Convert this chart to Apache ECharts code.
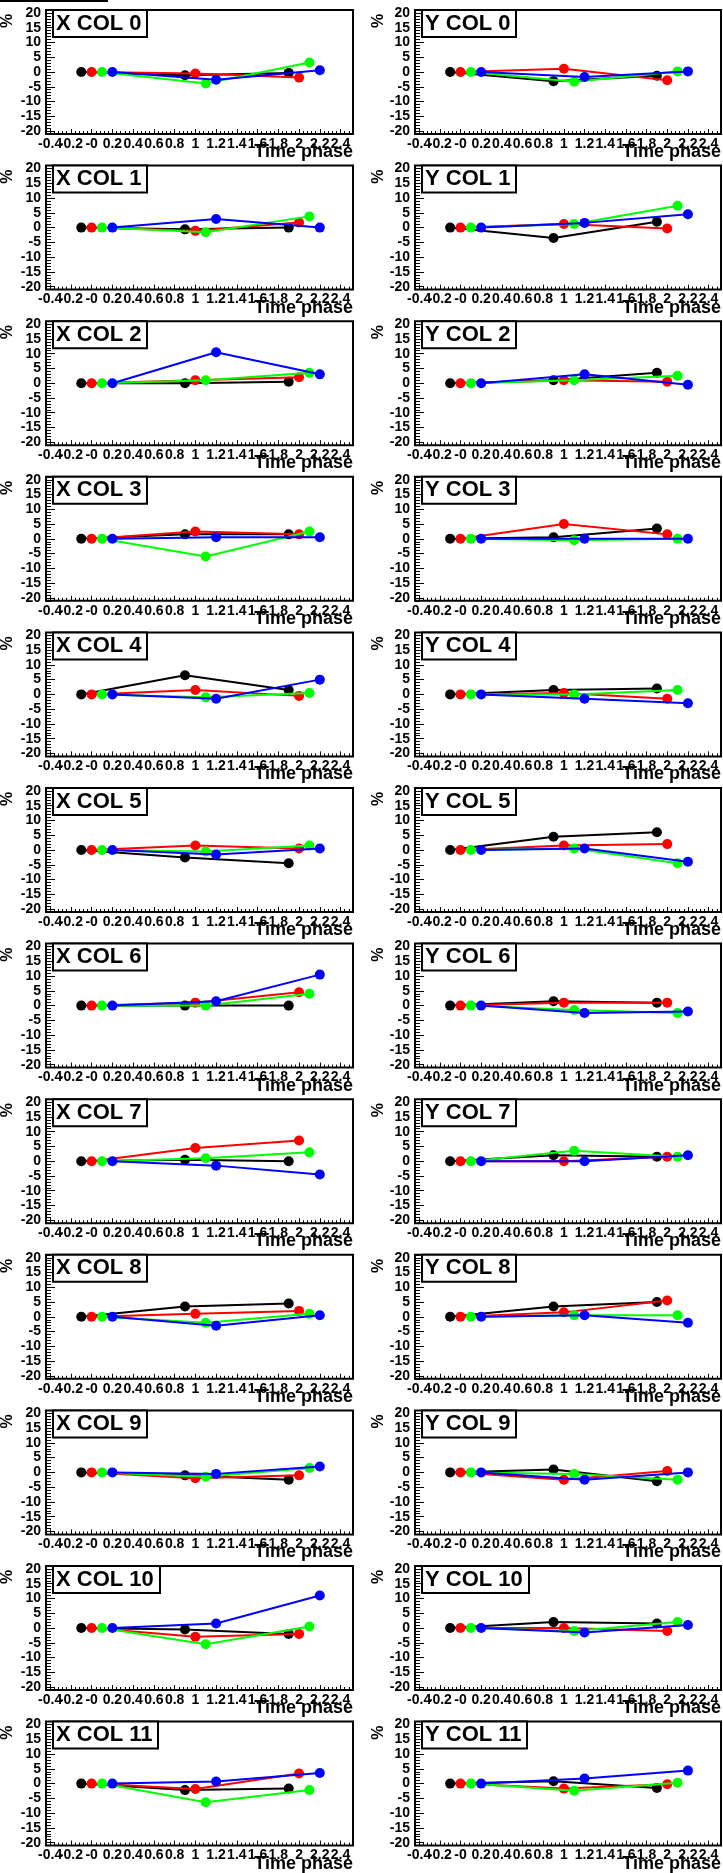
<!DOCTYPE html>
<html>
<head>
<meta charset="utf-8">
<script src="https://cdn.jsdelivr.net/npm/echarts@6/dist/echarts.min.js"></script>
<style>
html,body{margin:0;padding:0;background:#fff;}
#chart{width:723px;height:1873px;}
</style>
</head>
<body>
<div id="chart"></div>
<script>
// ---- data ----
// time-phase positions of each series (black, red, green, blue)
const phaseBlack = [-0.1, 0.9, 1.9];
const phaseRed   = [0.0, 1.0, 2.0];
const phaseGreen = [0.1, 1.1, 2.1];
const phaseBlue  = [0.2, 1.2, 2.2];

const xTickValues = [-0.4, -0.2, 0, 0.2, 0.4, 0.6, 0.8, 1, 1.2, 1.4, 1.6, 1.8, 2, 2.2, 2.4];
const xTickLabels = ["-0.4", "-0.2", "-0", "0.2", "0.4", "0.6", "0.8", "1", "1.2", "1.4", "1.6", "1.8", "2", "2.2", "2.4"];
const yTickValues = [-20, -15, -10, -5, 0, 5, 10, 15, 20];
const yTickLabels = ["-20", "-15", "-10", "-5", "0", "5", "10", "15", "20"];

const panelNames = ["X COL 0","Y COL 0","X COL 1","Y COL 1","X COL 2","Y COL 2","X COL 3","Y COL 3",
  "X COL 4","Y COL 4","X COL 5","Y COL 5","X COL 6","Y COL 6","X COL 7","Y COL 7",
  "X COL 8","Y COL 8","X COL 9","Y COL 9","X COL 10","Y COL 10","X COL 11","Y COL 11"];

// values (%) per panel: [black, red, green, blue]
const X_COL_0  = [[0,-1.1,-0.3],[0,-0.5,-1.9],[0,-3.9,3.2],[0,-2.6,0.6]];
const Y_COL_0  = [[0,-3.1,-1.3],[0,1.1,-2.8],[0,-3.3,0.2],[0,-1.7,0.2]];
const X_COL_1  = [[0,-0.6,0],[0,-1.1,1.7],[0,-1.6,3.8],[0,2.9,0]];
const Y_COL_1  = [[0,-3.5,2.0],[0,1.2,-0.3],[0,1.2,7.4],[0,1.6,4.5]];
const X_COL_2  = [[0,0,0.5],[0,1,2],[0,1,3.5],[0,10.5,3]];
const Y_COL_2  = [[0,1,3.5],[0,1,0.5],[0,1,2.5],[0,3,-0.5]];
const X_COL_3  = [[0,1.5,1.5],[0,2.5,1.5],[0,-6,2.5],[0,0.5,0.5]];
const Y_COL_3  = [[0,0.5,3.5],[0,5,1.5],[0,-0.5,0],[0,0,0]];
const X_COL_4  = [[0,6.5,1.5],[0,1.5,-0.5],[0,-1,0.5],[0,-1.5,5]];
const Y_COL_4  = [[0,1.5,2],[0,0.5,-1.5],[0,0,1.5],[0,-1.5,-3]];
const X_COL_5  = [[0,-2.5,-4.5],[0,1.5,0.5],[0,-0.5,1.5],[0,-1.5,0.5]];
const Y_COL_5  = [[0,4.5,6],[0,1.5,2],[0,0.5,-4.5],[0,0.5,-4]];
const X_COL_6  = [[0,0,0],[0,1,4.5],[0,0,4],[0,1.5,10.5]];
const Y_COL_6  = [[0,1.5,1],[0,1,1],[0,-1.5,-2.5],[0,-2.5,-2]];
const X_COL_7  = [[0,0.5,0],[0,4.5,7],[0,1,3],[0,-1.5,-4.5]];
const Y_COL_7  = [[0,2,1.5],[0,0,1.5],[0,3.5,1.5],[0,0,2]];
const X_COL_8  = [[0,3.5,4.5],[0,1,2],[0,-2,1],[0,-3,0.5]];
const Y_COL_8  = [[0,3.5,5],[0,1.5,5.5],[0,0.5,0.5],[0,0.5,-2]];
const X_COL_9  = [[0,-1,-2.5],[0,-2,-1],[0,-1.5,1.5],[0,-0.5,2]];
const Y_COL_9  = [[0,1,-3],[0,-2.5,0.5],[0,-0.5,-2.5],[0,-2.5,0]];
const X_COL_10 = [[0,-0.5,-2],[0,-3,-2],[0,-5.5,0.5],[0,1.5,11]];
const Y_COL_10 = [[0,2,1.5],[0,0,-1],[0,-1,2],[0,-1.5,1]];
const X_COL_11 = [[0,-2.2,-1.7],[0,-1.8,3.4],[0,-6.3,-2.2],[0,0.7,3.6]];
const Y_COL_11 = [[0,0.8,-1.5],[0,-1.7,-0.2],[0,-2.4,0.3],[0,1.7,4.4]];

const panelValues = [X_COL_0,Y_COL_0,X_COL_1,Y_COL_1,X_COL_2,Y_COL_2,X_COL_3,Y_COL_3,
  X_COL_4,Y_COL_4,X_COL_5,Y_COL_5,X_COL_6,Y_COL_6,X_COL_7,Y_COL_7,
  X_COL_8,Y_COL_8,X_COL_9,Y_COL_9,X_COL_10,Y_COL_10,X_COL_11,Y_COL_11];

const seriesPhases = [phaseBlack, phaseRed, phaseGreen, phaseBlue];
const seriesColors = ['#000000', '#ff0000', '#00ff00', '#0000ff'];

// ---- layout ----
const FONT = 'Liberation Sans, Arial, Helvetica, sans-serif';
const ROW = 155.6;
const X_MIN = -0.44, X_MAX = 2.52;
const Y_MIN = -21, Y_MAX = 21;

const xMinor = [];
for (let k = -11; k <= 63; k++) { const v = +(k * 0.04).toFixed(2); if (v >= X_MIN && v <= X_MAX && k % 5 !== 0) xMinor.push(v); }
const yMinor = [];
for (let v = -21; v <= 21; v++) { if (v % 5 !== 0) yMinor.push(v); }
// split labels into two alternating sets so none are auto-hidden
const xLabelsEven = xTickValues.filter((v, j) => j % 2 === 0);
const xLabelsOdd = xTickValues.filter((v, j) => j % 2 === 1);
const xFmt = v => xTickLabels[Math.round((v - xTickValues[0]) / 0.2)];

const grids = [], xAxes = [], yAxes = [], series = [], titles = [], graphics = [];

graphics.push({ type: 'rect', shape: { x: 0, y: 0, width: 108, height: 2 }, style: { fill: '#000' } });

const noLine = { show: false, onZero: false };
const xLabelStyle = { margin: 3, color: '#000', hideOverlap: false, showMinLabel: true, showMaxLabel: true,
  fontFamily: FONT, fontWeight: 'bold', fontSize: 14, formatter: xFmt };

panelNames.forEach((name, i) => {
  const row = Math.floor(i / 2), col = i % 2;
  const left = col ? 415 : 46;
  const width = col ? 306 : 307;
  const top = row * ROW + 10;
  const height = 124;
  grids.push({ left, top, width, height, show: true, borderColor: '#000', borderWidth: 2, backgroundColor: '#fff' });

  xAxes.push({
    type: 'value', gridIndex: i, min: X_MIN, max: X_MAX, position: 'bottom',
    axisLine: noLine, splitLine: { show: false },
    axisTick: { show: true, inside: true, length: 5, customValues: xTickValues, lineStyle: { color: '#000', width: 1 } },
    axisLabel: Object.assign({ show: true, customValues: xLabelsEven }, xLabelStyle)
  });
  xAxes.push({
    type: 'value', gridIndex: i, min: X_MIN, max: X_MAX, position: 'bottom',
    axisLine: noLine, splitLine: { show: false },
    axisTick: { show: true, inside: true, length: 3, customValues: xMinor, lineStyle: { color: '#000', width: 1 } },
    axisLabel: Object.assign({ show: true, customValues: xLabelsOdd }, xLabelStyle)
  });
  yAxes.push({
    type: 'value', gridIndex: i, min: Y_MIN, max: Y_MAX, position: 'left',
    axisLine: noLine, splitLine: { show: false },
    axisTick: { show: true, inside: true, length: 9, customValues: yTickValues, lineStyle: { color: '#000', width: 1 } },
    axisLabel: {
      show: true, customValues: yTickValues, margin: 5, color: '#000', hideOverlap: false,
      showMinLabel: true, showMaxLabel: true,
      fontFamily: FONT, fontWeight: 'bold', fontSize: 14,
      formatter: v => yTickLabels[Math.round((v + 20) / 5)]
    }
  });
  yAxes.push({
    type: 'value', gridIndex: i, min: Y_MIN, max: Y_MAX, position: 'left',
    axisLine: noLine, splitLine: { show: false },
    axisTick: { show: true, inside: true, length: 5, customValues: yMinor, lineStyle: { color: '#000', width: 1 } },
    axisLabel: { show: false }
  });

  const vals = panelValues[i];
  seriesPhases.forEach((ph, k) => {
    series.push({
      type: 'line', xAxisIndex: 2 * i, yAxisIndex: 2 * i,
      data: ph.map((x, j) => [x, vals[k][j]]),
      symbol: 'circle', symbolSize: 10, showSymbol: true,
      lineStyle: { color: seriesColors[k], width: 2 },
      itemStyle: { color: seriesColors[k] },
      animation: false, silent: true, z: 2 + k
    });
  });

  titles.push({
    text: name, left: left + 7, top: top,
    padding: [2, 6, 2, 3],
    borderColor: '#000', borderWidth: 2, backgroundColor: '#fff',
    textStyle: { fontFamily: FONT, fontWeight: 'bold', fontSize: 22, lineHeight: 23, color: '#000' }
  });

  graphics.push({
    type: 'text', x: (col ? 379 : 8), y: row * ROW + 21, rotation: Math.PI / 2,
    style: { text: '%', font: 'bold 16px ' + FONT, fill: '#000', align: 'center', verticalAlign: 'middle' }
  });
  graphics.push({
    type: 'text', x: left + width, y: row * ROW + 152,
    style: { text: 'Time phase', font: 'bold 18px ' + FONT, fill: '#000', align: 'right', verticalAlign: 'middle' }
  });
});

const chart = echarts.init(document.getElementById('chart'), null, { renderer: 'canvas', width: 723, height: 1873 });
chart.setOption({
  backgroundColor: '#fff',
  animation: false,
  title: titles,
  grid: grids,
  xAxis: xAxes,
  yAxis: yAxes,
  series: series,
  graphic: graphics
});
</script>
</body>
</html>
